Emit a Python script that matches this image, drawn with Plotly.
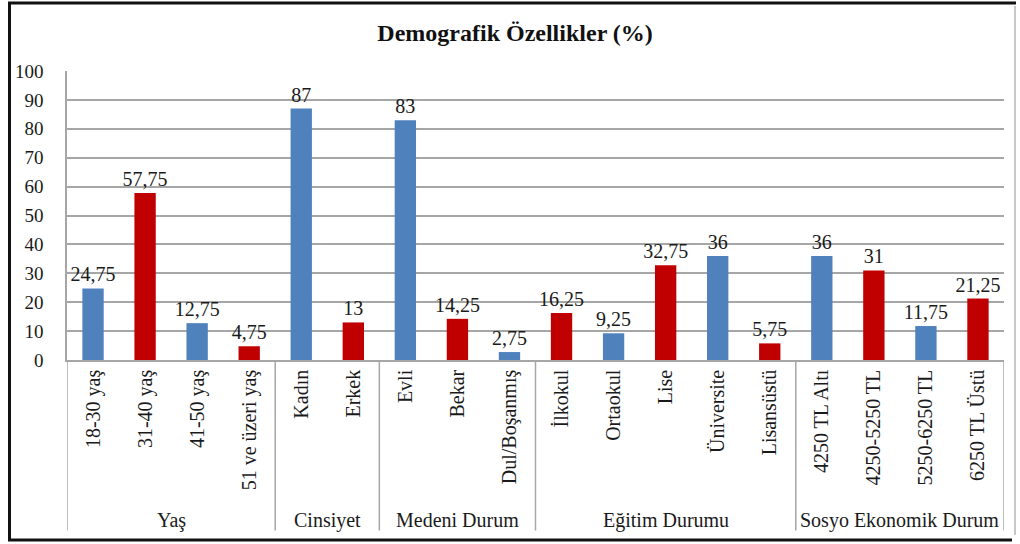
import plotly.graph_objects as go

categories = ["18-30 yaş", "31-40 yaş", "41-50 yaş", "51 ve üzeri yaş",
              "Kadın", "Erkek",
              "Evli", "Bekar", "Dul/Boşanmış",
              "İlkokul", "Ortaokul", "Lise", "Üniversite", "Lisansüstü",
              "4250 TL Altı", "4250-5250 TL", "5250-6250 TL", "6250 TL Üstü"]
values = [24.75, 57.75, 12.75, 4.75,
          87, 13,
          83, 14.25, 2.75,
          16.25, 9.25, 32.75, 36, 5.75,
          36, 31, 11.75, 21.25]
groups = ["Yaş", "Cinsiyet", "Medeni Durum", "Eğitim Durumu", "Sosyo Ekonomik Durum"]
group_sizes = [4, 2, 3, 5, 4]
blue = "#4F81BD"
red = "#C00000"
colors = [blue, red, blue, red,
          blue, red,
          blue, red, blue,
          red, blue, red, blue, red,
          blue, red, blue, red]

def fmt(v):
    return ("%g" % v).replace(".", ",")

labels = [fmt(v) for v in values]
xs = list(range(len(categories)))

font_family = "Liberation Serif"

fig = go.Figure()
fig.add_trace(go.Bar(
    x=xs, y=values, marker=dict(color=colors, line=dict(width=0)),
    text=labels, textposition="outside", constraintext="none",
    textfont=dict(family=font_family, size=20, color="#1a1a1a"),
    cliponaxis=False, width=0.41,
))

shapes = []
annotations = []
start = 0
bounds = [-0.5]
for g, n in zip(groups, group_sizes):
    mid = start + (n - 1) / 2
    annotations.append(dict(x=mid, y=-0.555, xref="x", yref="paper", text=g,
                            showarrow=False, yanchor="middle",
                            font=dict(family=font_family, size=20, color="#1a1a1a")))
    start += n
    bounds.append(start - 0.5)
for b in bounds:
    shapes.append(dict(type="line", xref="x", yref="paper", x0=b, x1=b,
                       y0=0, y1=-0.59, line=dict(color="#a6a6a6", width=1.5)))

def px_x(p):
    return (p - 67) / 937
def px_y(q):
    return (360 - q) / 289
shapes.append(dict(type="line", xref="paper", yref="paper", x0=px_x(8), x1=px_x(1016),
                   y0=px_y(3), y1=px_y(3), line=dict(color="#111111", width=3)))
shapes.append(dict(type="line", xref="paper", yref="paper", x0=px_x(9.5), x1=px_x(9.5),
                   y0=px_y(2), y1=px_y(541), line=dict(color="#111111", width=3)))
shapes.append(dict(type="line", xref="paper", yref="paper", x0=px_x(8), x1=px_x(1012),
                   y0=px_y(540), y1=px_y(540), line=dict(color="#111111", width=3)))
shapes.append(dict(type="line", xref="paper", yref="paper", x0=px_x(1015), x1=px_x(1015),
                   y0=px_y(6), y1=px_y(535), line=dict(color="#c8c8c8", width=2)))

fig.update_layout(
    width=1020, height=544,
    margin=dict(l=67, r=16, t=71, b=184),
    paper_bgcolor="white", plot_bgcolor="white",
    showlegend=False,
    bargap=0.6,
    title=dict(text="<b>Demografik Özellikler (%)</b>", x=0.505, xanchor="center",
               y=1 - 33 / 544, yanchor="middle",
               font=dict(family=font_family, size=24, color="#111111")),
    xaxis=dict(tickmode="array", tickvals=xs, ticktext=categories, tickangle=-90,
               range=[-0.5, 17.5], showgrid=False, zeroline=False,
               showline=True, linecolor="#a6a6a6", linewidth=1.5, ticks="",
               tickfont=dict(family=font_family, size=20, color="#1a1a1a")),
    yaxis=dict(range=[0, 100], dtick=10, showgrid=True, gridcolor="#a6a6a6", gridwidth=1.5,
               zeroline=False, showline=True, linecolor="#a6a6a6", linewidth=1.5,
               ticks="", ticklabelstandoff=18,
               tickfont=dict(family=font_family, size=19, color="#1a1a1a")),
    shapes=shapes, annotations=annotations,
)

fig.write_html("out.html", config={"displayModeBar": False},
               post_script="document.body.style.margin='0';document.body.style.padding='0';")
